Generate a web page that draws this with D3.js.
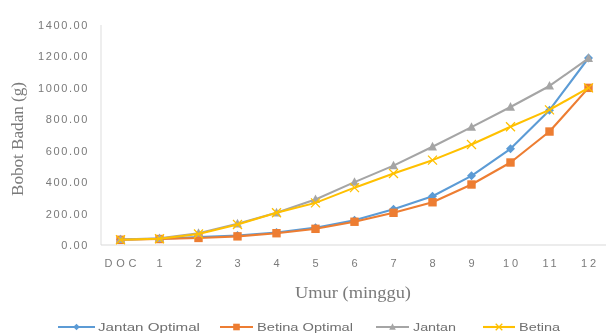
<!DOCTYPE html>
<html>
<head>
<meta charset="utf-8">
<script src="https://cdn.jsdelivr.net/npm/d3@7"></script>
<style>
  html, body { margin: 0; padding: 0; background: #fff; }
  svg { display: block; }
</style>
</head>
<body>
<svg id="chart" width="606" height="334"></svg>
<script>
// Age categories (weeks)
const categories = ["DOC", "1", "2", "3", "4", "5", "6", "7", "8", "9", "10", "11", "12"];

// Body weight (g) per series
const jantanOptimal = [35, 40, 50, 60, 80, 110, 158, 228, 310, 440, 612, 858, 1190];
const betinaOptimal = [33, 38, 45, 55, 75, 103, 148, 205, 272, 385, 525, 722, 1000];
const jantan        = [35, 42, 75, 135, 205, 290, 400, 505, 625, 750, 878, 1012, 1188];
const betina        = [33, 40, 70, 130, 205, 268, 365, 455, 540, 640, 752, 860, 1000];

const yTicks = [0, 200, 400, 600, 800, 1000, 1200, 1400];

const seriesNames = ["Jantan Optimal", "Betina Optimal", "Jantan", "Betina"];
const seriesValues = [jantanOptimal, betinaOptimal, jantan, betina];
const colors = ["#5B9BD5", "#ED7D31", "#A5A5A5", "#FFC000"];
const markers = ["diamond", "square", "triangle", "cross"];

const svg = d3.select("#chart");

const defs = svg.append("defs");
defs.append("filter").attr("id", "soft")
  .append("feGaussianBlur").attr("stdDeviation", 0.5);

const root = svg.append("g").attr("filter", "url(#soft)");

const plot = { left: 101, right: 608, top: 25, bottom: 245 };

const x = d3.scaleBand().domain(categories).range([plot.left, plot.right]);
const y = d3.scaleLinear().domain([0, 1400]).range([plot.bottom, plot.top]);
const cx = c => x(c) + x.bandwidth() / 2;

// axis lines
root.append("line")
  .attr("x1", plot.left).attr("x2", plot.left)
  .attr("y1", plot.top).attr("y2", plot.bottom)
  .attr("stroke", "#e3e3e3").attr("stroke-width", 1.2);
root.append("line")
  .attr("x1", plot.left).attr("x2", plot.right)
  .attr("y1", plot.bottom).attr("y2", plot.bottom)
  .attr("stroke", "#d9d9d9").attr("stroke-width", 1.2);

const sans = "'Liberation Sans', Arial, sans-serif";
const serif = "'Liberation Serif', 'Times New Roman', serif";

// y tick labels
const yAxis = d3.axisLeft(y).tickValues(yTicks).tickFormat(d3.format(".2f")).tickSize(0).tickPadding(12);
const ya = root.append("g").attr("transform", `translate(${plot.left},0)`).call(yAxis);
ya.select(".domain").remove();
ya.selectAll("text")
  .attr("font-family", sans)
  .attr("font-size", 11).attr("fill", "#7a7a7a")
  .attr("letter-spacing", 1.6);

// x tick labels
const xAxis = d3.axisBottom(x).tickSize(0).tickPadding(14);
const xa = root.append("g").attr("transform", `translate(0,${plot.bottom})`).call(xAxis);
xa.select(".domain").remove();
xa.selectAll("text")
  .attr("font-family", sans)
  .attr("font-size", 11).attr("fill", "#7a7a7a")
  .attr("letter-spacing", d => d === "DOC" ? 3.8 : 2.8)
  .attr("dx", d => d === "DOC" ? 1.9 : 1.4);

// axis titles
root.append("text")
  .attr("x", 353).attr("y", 298)
  .attr("text-anchor", "middle")
  .attr("font-family", serif)
  .attr("font-size", 16).attr("fill", "#7a7a7a")
  .attr("textLength", 116).attr("lengthAdjust", "spacingAndGlyphs")
  .text("Umur (minggu)");
root.append("text")
  .attr("transform", "translate(23,139) rotate(-90)")
  .attr("text-anchor", "middle")
  .attr("font-family", serif)
  .attr("font-size", 16).attr("fill", "#7a7a7a")
  .attr("textLength", 114).attr("lengthAdjust", "spacingAndGlyphs")
  .text("Bobot Badan (g)");

function drawMarker(g, type, px, py, color, s) {
  if (type === "diamond") {
    g.append("path")
      .attr("d", `M${px},${py - s}L${px + s},${py}L${px},${py + s}L${px - s},${py}Z`)
      .attr("fill", color);
  } else if (type === "square") {
    g.append("rect").attr("x", px - s).attr("y", py - s)
      .attr("width", 2 * s).attr("height", 2 * s).attr("fill", color);
  } else if (type === "triangle") {
    g.append("path")
      .attr("d", `M${px},${py - s * 1.1}L${px + s},${py + s * 0.8}L${px - s},${py + s * 0.8}Z`)
      .attr("fill", color);
  } else {
    g.append("path")
      .attr("d", `M${px - s},${py - s}L${px + s},${py + s}M${px + s},${py - s}L${px - s},${py + s}`)
      .attr("stroke", color).attr("stroke-width", 1.3).attr("fill", "none");
  }
}

const line = d3.line().x(d => cx(d.c)).y(d => y(d.v));

seriesValues.forEach((vals, i) => {
  const pts = categories.map((c, j) => ({ c, v: vals[j] }));
  const g = root.append("g");
  g.append("path").datum(pts)
    .attr("d", line).attr("fill", "none")
    .attr("stroke", colors[i]).attr("stroke-width", 2.1)
    .attr("stroke-linejoin", "round");
  pts.forEach(p => drawMarker(g, markers[i], cx(p.c), y(p.v), colors[i], markers[i] === "square" ? 4.2 : 4.5));
});

// legend
const legendItems = [
  { x: 58, w: 37, tx: 98, tw: 102 },
  { x: 220, w: 33, tx: 257, tw: 96 },
  { x: 376, w: 33, tx: 413, tw: 43 },
  { x: 483, w: 32, tx: 519, tw: 41 }
];
const ly = 327;
seriesNames.forEach((name, i) => {
  const it = legendItems[i];
  const g = root.append("g");
  g.append("line").attr("x1", it.x).attr("x2", it.x + it.w)
    .attr("y1", ly).attr("y2", ly)
    .attr("stroke", colors[i]).attr("stroke-width", 2.1);
  drawMarker(g, markers[i], it.x + it.w / 2, ly, colors[i], 3.3);
  g.append("text").attr("x", it.tx).attr("y", ly + 4)
    .attr("font-family", sans)
    .attr("font-size", 11.5).attr("fill", "#6f6f6f")
    .attr("textLength", it.tw).attr("lengthAdjust", "spacingAndGlyphs")
    .text(name);
});
</script>
</body>
</html>
